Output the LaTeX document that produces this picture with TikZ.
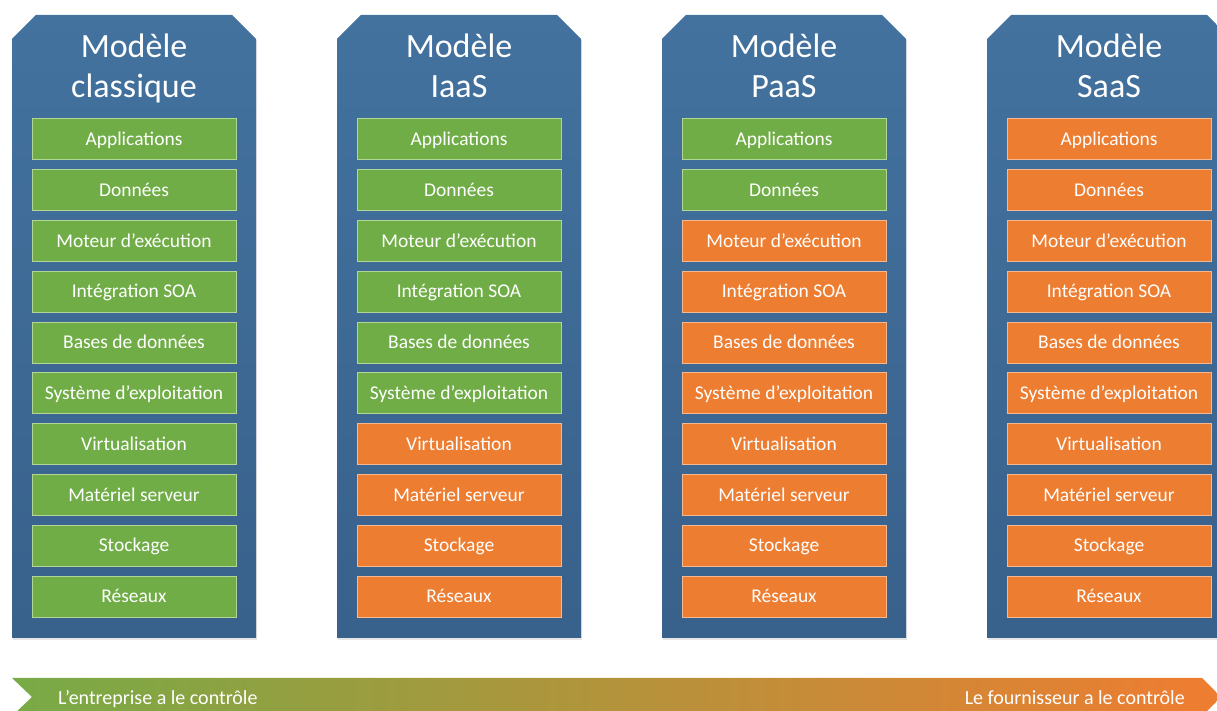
\documentclass[tikz,border=0pt]{standalone}
\usepackage{fontspec}
\setmainfont{Carlito}
\usepackage{tikz}
\usetikzlibrary{positioning}
\usetikzlibrary{shadows}
\definecolor{bleu}{RGB}{67,114,159}
\definecolor{bleufonce}{RGB}{56,97,139}
\definecolor{vert}{RGB}{112,173,71}
\definecolor{vertclair}{RGB}{178,214,150}
\definecolor{orange2}{RGB}{237,125,49}
\definecolor{orangeclair}{RGB}{246,184,142}
\pgfdeclarehorizontalshading{controle}{100bp}{color(0bp)=(vert); color(22bp)=(vert); color(74bp)=(orange2); color(100bp)=(orange2)}

\begin{document}
\begin{tikzpicture}[x=1pt, y=1pt, node distance=50.8pt]
\tikzstyle{colonne}=[top color=bleu, bottom color=bleufonce, drop shadow={opacity=0.2, shadow xshift=1pt, shadow yshift=-2pt}]
\tikzstyle{client}=[fill=vert, draw=vertclair, line width=1pt, text=white, minimum width=204pt, minimum height=41pt, inner sep=0pt, text height=15pt, text depth=3pt, font=\fontsize{19.5}{22}\selectfont]
\tikzstyle{fourni}=[client, fill=orange2, draw=orangeclair]
\tikzstyle{titre}=[text=white, align=center, inner sep=0pt, text depth=7pt, font=\fontsize{34}{40}\selectfont]
\tikzstyle{bande}=[text=white, inner sep=0pt, font=\fontsize{20}{24}\selectfont]

\useasboundingbox (0,0) rectangle (1217,711);
\clip (0,0) rectangle (1217,711);

% colonnes
\path[colonne] (12,73) -- (12,672) -- (36,696) -- (232,696) -- (256,672) -- (256,73) -- cycle;
\path[colonne] (337,73) -- (337,672) -- (361,696) -- (557,696) -- (581,672) -- (581,73) -- cycle;
\path[colonne] (662,73) -- (662,672) -- (686,696) -- (882,696) -- (906,672) -- (906,73) -- cycle;
\path[colonne] (987,73) -- (987,672) -- (1011,696) -- (1207,696) -- (1231,672) -- (1231,73) -- cycle;

% modele classique
\node[client]    (a1) at (134,571.5)  {Applications};
\node[client]    (a2) [below of=a1]   {Données};
\node[client]    (a3) [below of=a2]   {Moteur d’exécution};
\node[client]    (a4) [below of=a3]   {Intégration SOA};
\node[client]    (a5) [below of=a4]   {Bases de données};
\node[client]    (a6) [below of=a5]   {Système d’exploitation};
\node[client]    (a7) [below of=a6]   {Virtualisation};
\node[client]    (a8) [below of=a7]   {Matériel serveur};
\node[client]    (a9) [below of=a8]   {Stockage};
\node[client]    (a10)[below of=a9]   {Réseaux};
\node[titre]     (ta) [above=14pt of a1] {Modèle\\classique};

% modele IaaS
\node[client]    (b1) at (459,571.5)  {Applications};
\node[client]    (b2) [below of=b1]   {Données};
\node[client]    (b3) [below of=b2]   {Moteur d’exécution};
\node[client]    (b4) [below of=b3]   {Intégration SOA};
\node[client]    (b5) [below of=b4]   {Bases de données};
\node[client]    (b6) [below of=b5]   {Système d’exploitation};
\node[fourni]    (b7) [below of=b6]   {Virtualisation};
\node[fourni]    (b8) [below of=b7]   {Matériel serveur};
\node[fourni]    (b9) [below of=b8]   {Stockage};
\node[fourni]    (b10)[below of=b9]   {Réseaux};
\node[titre]     (tb) [above=14pt of b1] {Modèle\\IaaS};

% modele PaaS
\node[client]    (c1) at (784,571.5)  {Applications};
\node[client]    (c2) [below of=c1]   {Données};
\node[fourni]    (c3) [below of=c2]   {Moteur d’exécution};
\node[fourni]    (c4) [below of=c3]   {Intégration SOA};
\node[fourni]    (c5) [below of=c4]   {Bases de données};
\node[fourni]    (c6) [below of=c5]   {Système d’exploitation};
\node[fourni]    (c7) [below of=c6]   {Virtualisation};
\node[fourni]    (c8) [below of=c7]   {Matériel serveur};
\node[fourni]    (c9) [below of=c8]   {Stockage};
\node[fourni]    (c10)[below of=c9]   {Réseaux};
\node[titre]     (tc) [above=14pt of c1] {Modèle\\PaaS};

% modele SaaS
\node[fourni]    (d1) at (1109,571.5) {Applications};
\node[fourni]    (d2) [below of=d1]   {Données};
\node[fourni]    (d3) [below of=d2]   {Moteur d’exécution};
\node[fourni]    (d4) [below of=d3]   {Intégration SOA};
\node[fourni]    (d5) [below of=d4]   {Bases de données};
\node[fourni]    (d6) [below of=d5]   {Système d’exploitation};
\node[fourni]    (d7) [below of=d6]   {Virtualisation};
\node[fourni]    (d8) [below of=d7]   {Matériel serveur};
\node[fourni]    (d9) [below of=d8]   {Stockage};
\node[fourni]    (d10)[below of=d9]   {Réseaux};
\node[titre]     (td) [above=14pt of d1] {Modèle\\SaaS};

% bande du bas
\shade[shading=controle] (12,33) -- (1202,33) -- (1221,14) -- (1202,-5) -- (12,-5) -- (32,14) -- cycle;
\node[bande, anchor=base west] (entreprise)  at (58,6)   {L’entreprise a le contrôle};
\node[bande, anchor=base east] (fournisseur) at (1185,6) {Le fournisseur a le contrôle};
\end{tikzpicture}
\end{document}
